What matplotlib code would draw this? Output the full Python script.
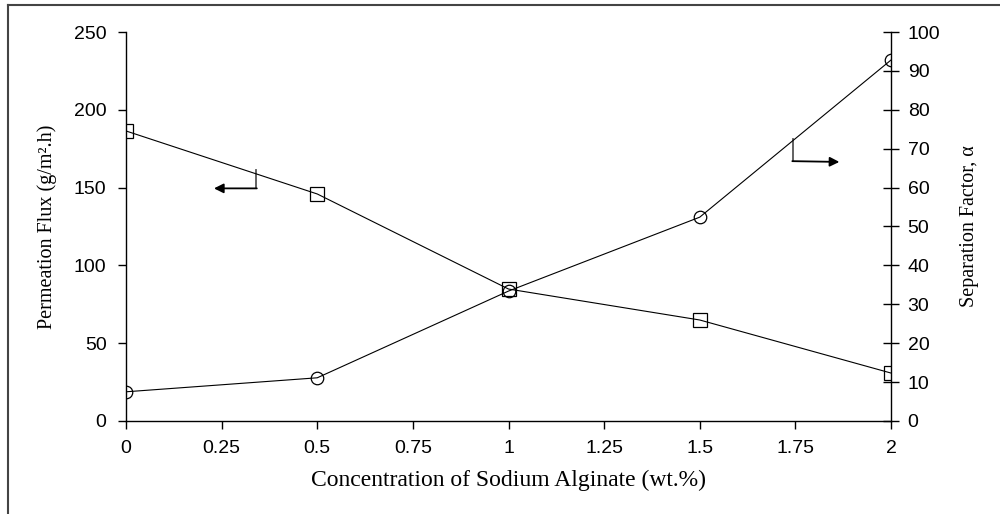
import matplotlib.pyplot as plt
from matplotlib.lines import Line2D

# ------------------------------------------------
# Данные
# ------------------------------------------------
concentration = [0, 0.5, 1, 1.5, 2]
flux = [186.4, 145.9, 84.8, 64.9, 30.8]          # г/м2.ч, левая ось
separation = [7.5, 11.1, 33.4, 52.4, 92.8]       # фактор разделения, правая ось

x_ticks = [0, 0.25, 0.5, 0.75, 1, 1.25, 1.5, 1.75, 2]
x_tick_labels = ['0', '0.25', '0.5', '0.75', '1', '1.25', '1.5', '1.75', '2']
flux_ticks = [0, 50, 100, 150, 200, 250]
sep_ticks = [0, 10, 20, 30, 40, 50, 60, 70, 80, 90, 100]

tick_font = 'Liberation Sans'
label_font = 'Liberation Serif'

fig = plt.figure(figsize=(10, 5.14), dpi=100)

# рамка вокруг рисунка (верх и левый край)
fig.add_artist(Line2D([0.008, 0.008], [0, 0.99], color='#444444', lw=1.5,
                      transform=fig.transFigure))
fig.add_artist(Line2D([0.008, 1.0], [0.99, 0.99], color='#444444', lw=1.5,
                      transform=fig.transFigure))

ax = fig.add_axes([0.126, 0.181, 0.765, 0.7567])
ax2 = ax.twinx()

# 1. Поток (квадраты)
ax.plot(concentration, flux, color='black', lw=0.8, marker='s',
        markersize=10, markerfacecolor='none', markeredgewidth=0.9, zorder=3)

# 2. Фактор разделения (кружки)
ax2.plot(concentration, separation, color='black', lw=0.8, marker='o',
         markersize=9, markerfacecolor='none', markeredgewidth=0.9, zorder=3)

ax.set_xlim(0, 2)
ax.set_ylim(0, 250)
ax2.set_ylim(0, 100)

ax.set_xticks(x_ticks)
ax.set_xticklabels(x_tick_labels, fontsize=14, family=tick_font)
ax.set_yticks(flux_ticks)
ax.set_yticklabels([str(v) for v in flux_ticks], fontsize=14, family=tick_font)
ax2.set_yticks(sep_ticks)
ax2.set_yticklabels([str(v) for v in sep_ticks], fontsize=14, family=tick_font)

for a in (ax, ax2):
    a.spines['top'].set_visible(False)
    for s in a.spines.values():
        s.set_linewidth(1.0)
ax.spines['right'].set_visible(False)
ax2.spines['left'].set_visible(False)
ax2.spines['bottom'].set_visible(False)

ax.tick_params(axis='x', direction='out', length=6, width=1, pad=8)
ax.tick_params(axis='y', direction='out', length=6, width=1, pad=8)
ax2.tick_params(axis='y', direction='inout', length=12, width=1, pad=6)

ax.set_xlabel('Concentration of Sodium Alginate (wt.%)', fontsize=17,
              family=label_font, labelpad=9)
ax.set_ylabel('Permeation Flux (g/m².h)', fontsize=14.5,
              family=label_font, labelpad=12)
ax2.set_ylabel('Separation Factor, α', fontsize=14.5,
               family=label_font, labelpad=14)

# 3. Стрелки-указатели осей
ax.plot([0.34, 0.34], [161, 149.5], color='#555555', lw=1.3)
ax.annotate('', xy=(0.23, 149.5), xytext=(0.342, 149.5),
            arrowprops=dict(arrowstyle='-|>', color='black', lw=1.3,
                            mutation_scale=14, shrinkA=0, shrinkB=0))
ax.plot([1.744, 1.744], [181, 167], color='#555555', lw=1.3)
ax.annotate('', xy=(1.865, 166.5), xytext=(1.742, 167),
            arrowprops=dict(arrowstyle='-|>', color='black', lw=1.3,
                            mutation_scale=14, shrinkA=0, shrinkB=0))

plt.savefig('out.png', dpi=100)
